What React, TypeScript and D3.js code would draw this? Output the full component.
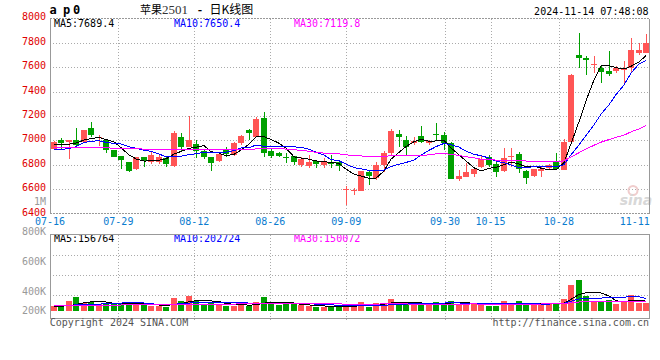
import React from "react";
import * as d3 from "d3";

// ---------- data ----------
const dates = [
  "07-16","07-17","07-18","07-19","07-22","07-23","07-24","07-25","07-26","07-29","07-30","07-31",
  "08-01","08-02","08-05","08-06","08-07","08-08","08-09","08-12","08-13","08-14","08-15","08-16",
  "08-19","08-20","08-21","08-22","08-23","08-26","08-27","08-28","08-29","08-30",
  "09-02","09-03","09-04","09-05","09-06","09-09","09-10","09-11","09-12","09-13","09-18","09-19","09-20",
  "09-23","09-24","09-25","09-26","09-27","09-30",
  "10-08","10-09","10-10","10-11","10-14","10-15","10-16","10-17","10-18","10-21","10-22","10-23","10-24","10-25",
  "10-28","10-29","10-30","10-31",
  "11-01","11-04","11-05","11-06","11-07","11-08","11-11","11-12","11-13",
];

const openP = [
  6927,7003,6990,7003,6990,7102,7017,7003,6922,6872,
  6823,6760,6862,6826,6823,6853,6785,7025,6949,6971,
  6916,6862,6826,6919,6886,6976,7085,7031,7181,6913,
  6900,6862,6872,6799,6796,6832,6793,6813,6821,6596,
  6592,6589,6744,6695,6796,6900,7053,7003,6976,7039,
  6982,7050,7044,6976,6684,6703,6725,6777,6861,6807,
  6744,6861,6886,6752,6709,6752,6777,6826,6758,6990,
  7699,7672,7622,7593,7568,7565,7582,7590,7718,7718,
];
const highP = [
  6995,7022,7005,7102,7088,7151,7044,7009,6925,6875,
  6826,6867,6867,6908,6881,6867,7080,7061,7200,7003,
  6933,6865,6890,6949,6990,7044,7090,7194,7235,6935,
  6905,6894,6875,6867,6881,6835,6853,6881,6824,6627,
  6608,6752,6750,6826,6916,7093,7085,7036,7031,7118,
  7003,7145,7072,6990,6758,6818,6785,6880,6880,6826,
  6935,6935,6908,6755,6770,6785,6807,6900,7009,7540,
  7877,7691,7691,7609,7732,7610,7650,7840,7795,7871,
];
const lowP = [
  6920,6922,6851,6955,6985,7025,6957,6900,6865,6769,
  6744,6758,6785,6807,6807,6785,6785,6916,6945,6853,
  6845,6752,6820,6867,6872,6963,7003,7030,6867,6853,
  6862,6818,6799,6780,6771,6771,6777,6771,6752,6471,
  6553,6585,6635,6676,6744,6881,6949,6872,6963,6976,
  6963,7003,6922,6684,6668,6700,6703,6771,6785,6703,
  6740,6785,6736,6643,6703,6703,6758,6768,6755,6985,
  7595,7535,7549,7473,7527,7550,7459,7550,7700,7715,
];
const closeP = [
  6987,6982,7003,6960,7085,7047,7025,6922,6867,6840,
  6752,6862,6832,6881,6862,6807,7058,6941,7003,6916,
  6867,6812,6886,6886,6982,7036,7063,7175,6894,6875,
  6878,6859,6823,6848,6826,6804,6821,6810,6790,6600,
  6597,6750,6709,6799,6894,7077,7031,6949,6995,6993,
  6995,7047,6976,6684,6709,6744,6766,6845,6799,6744,
  6853,6872,6763,6695,6766,6768,6799,6771,6990,7535,
  7672,7653,7626,7563,7546,7592,7595,7740,7740,7800,
];
const volume = [
  80000,75000,160000,224000,123000,144000,117000,107000,107000,128000,
  107000,107000,107000,75000,75000,59000,208000,160000,240000,155000,
  112000,139000,107000,85000,75000,107000,80000,144000,224000,107000,
  96000,107000,107000,91000,75000,59000,59000,75000,64000,75000,
  75000,144000,64000,123000,123000,187000,139000,107000,107000,107000,
  107000,139000,128000,155000,107000,123000,107000,107000,75000,75000,
  155000,107000,155000,107000,107000,107000,107000,123000,187000,416000,
  507000,240000,155000,139000,176000,112000,165000,251000,133000,133000,
];

// moving-average values before enough visible history exists
const ma5Head = [6968, 6968, 6970, 6978];
const ma10Head = [6922, 6927, 6933, 6949, 6982, 6993, 6998, 6984, 6976];
const ma30Head = [
  6941, 6941, 6941, 6941, 6941, 6941, 6941, 6941, 6935, 6935, 6935, 6935,
  6928, 6928, 6928, 6928, 6928, 6924, 6924, 6924, 6924, 6924, 6924, 6924,
  6926, 6926, 6928, 6930, 6932,
];
const volMa5Head = [70000, 72000, 85000, 100000];
const volMa10Head = [85000, 85000, 90000, 96000, 101000, 107000, 110000, 112000, 115000];
const volMa30Head = [
  92000, 92000, 92000, 92000, 92000, 92000, 94000, 94000, 94000, 94000,
  96000, 96000, 96000, 96000, 96000, 98000, 98000, 98000, 100000, 100000,
  102000, 104000, 106000, 108000, 110000, 112000, 114000, 116000, 118000,
];

const priceTicks = [6400, 6600, 6800, 7000, 7200, 7400, 7600, 7800, 8000];
const volTickLabels = ["1M", "800K", "600K", "400K", "200K"];
const xTickLabels = ["07-16", "07-29", "08-12", "08-26", "09-09", "09-30", "10-15", "10-28", "11-11"];

const priceLegend = ["MA5:7689.4", "MA10:7650.4", "MA30:7119.8"];
const volLegend = ["MA5:156764", "MA10:202724", "MA30:150072"];

// ---------- layout ----------
const W = 660, H = 360;
const L = 50, R = 650;
const PTOP = 18.5, PBOT = 213.5;
const VTOP = 234.5, VBOT = 318.5, VBASE = 310.7;
const MONO = "'DejaVu Sans Mono', monospace";
const RED = "#ff5555", GREEN = "#00a000";
const GRID = "#aaaaaa", BORDER = "#999999";
const maColors = ["#000000", "#0000ff", "#ff00ff"];

function movingAvg(vals: number[], p: number, head: number[]) {
  return vals.map((_, i) => (i < p - 1 ? head[i] : (d3.mean(vals.slice(i - p + 1, i + 1)) as number)));
}

export default function App() {
  const n = dates.length;
  const idx = d3.range(n);
  const xb = d3.scaleBand<number>().domain(idx).range([L, R]).paddingInner(0.2).paddingOuter(0.1);
  const bw = Math.round(xb.bandwidth());
  const bx = (i: number) => Math.round(xb(i) as number);
  const cx = (i: number) => bx(i) + bw / 2;
  const xg = d3.scaleLinear().domain([0, n - 1]).range([L, R]);
  const y = d3.scaleLinear().domain([6400, 8000]).range([213.7, 18.3]);
  const yv = d3.scaleLinear().domain([0, 1000000]).range([VBASE, VBASE - 1000000 / 16500]);

  const pMA = [movingAvg(closeP, 5, ma5Head), movingAvg(closeP, 10, ma10Head), movingAvg(closeP, 30, ma30Head)];
  const vMA = [movingAvg(volume, 5, volMa5Head), movingAvg(volume, 10, volMa10Head), movingAvg(volume, 30, volMa30Head)];
  const pLine = d3.line<number>().x((_, i) => cx(i)).y((d) => y(d));
  const vLine = d3.line<number>().x((_, i) => cx(i)).y((d) => yv(d));

  const tickIdx = xTickLabels.map((t) => dates.indexOf(t));
  const vGrid = tickIdx.slice(1, -1);
  const up = (i: number) => closeP[i] >= openP[i];

  return (
    <svg width={W} height={H} viewBox={`0 0 ${W} ${H}`}
      style={{ position: "absolute", left: 0, top: 0, background: "#fff" }}>
      <rect x={0} y={0} width={W} height={H} fill="#fff" />

      {/* header */}
      <text x="49.5 63 73" y={14} fontFamily={MONO} fontWeight="bold" fontSize={12} fill="#000">ap0</text>
      <text x={140} y={13.5} fontFamily="'Noto Sans CJK SC'" fontSize={11} fill="#000">苹果</text>
      <text x={162} y={13.5} fontFamily="'Liberation Serif', serif" fontSize={13} fill="#333">2501</text>
      <text x={200} y={13.5} textAnchor="middle" fontFamily="'Noto Sans CJK SC'" fontSize={12} fontWeight="bold" fill="#000">-</text>
      <text x={209.5} y={13.5} fontFamily="'Noto Sans CJK SC'" fontSize={12} fill="#000">日K线图</text>
      <text x={648.5} y={15} textAnchor="end" fontFamily={MONO} fontSize={10} fill="#000">2024-11-14 07:48:08</text>

      {/* grid */}
      <g shapeRendering="crispEdges" stroke={GRID} strokeDasharray="1,2">
        {priceTicks.filter((v) => v > 6400 && v < 8000).map((v) => (
          <line key={v} x1={L} x2={R} y1={Math.round(y(v)) + 0.5} y2={Math.round(y(v)) + 0.5} />
        ))}
        {vGrid.map((i) => (
          <line key={i} x1={Math.round(xg(i)) + 0.5} x2={Math.round(xg(i)) + 0.5} y1={PTOP} y2={PBOT} />
        ))}
        {vGrid.map((i) => (
          <line key={"v" + i} x1={Math.round(xg(i)) + 0.5} x2={Math.round(xg(i)) + 0.5} y1={VTOP} y2={VBOT + 3} />
        ))}
        {[21, 41, 61].map((d) => (
          <line key={d} x1={L} x2={R} y1={VTOP + d} y2={VTOP + d} />
        ))}
      </g>

      {/* sina watermark */}
      <g opacity={0.9}>
        <circle cx={633} cy={190.5} r={4.5} fill="none" stroke="#efc8c8" strokeWidth={2} />
        <text x={636} y={205} textAnchor="middle" fontFamily="'DejaVu Sans', sans-serif" fontStyle="italic" fontWeight="bold" fontSize={14} fill="#d4d4d4">sina</text>
      </g>

      {/* candles */}
      <g shapeRendering="crispEdges">
        {idx.map((i) => {
          const c = up(i) ? RED : GREEN;
          const yt = y(Math.max(openP[i], closeP[i]));
          const yb = y(Math.min(openP[i], closeP[i]));
          const wx = bx(i) + Math.floor(bw / 2) + 0.5;
          return (
            <g key={i}>
              <line x1={wx} x2={wx} y1={y(highP[i])} y2={y(lowP[i])} stroke={c} />
              <rect x={bx(i)} y={Math.round(yt)} width={bw} height={Math.max(1, Math.round(yb - yt))} fill={c} />
            </g>
          );
        })}
      </g>

      {/* price MAs */}
      <g fill="none" strokeWidth={1} shapeRendering="crispEdges">
        {pMA.map((m, k) => (
          <path key={k} d={pLine(m) as string} stroke={maColors[k]} />
        ))}
      </g>

      {/* price legend */}
      {priceLegend.map((t, k) => (
        <text key={t} x={54 + k * 120} y={27.3} fontFamily={MONO} fontSize={10} fill={maColors[k]}>{t}</text>
      ))}

      {/* price box */}
      <g shapeRendering="crispEdges" fill="none" stroke={BORDER}>
        <line x1={L + 0.5} x2={L + 0.5} y1={PTOP} y2={PBOT + 0.5} />
        <line x1={R - 0.5} x2={R - 0.5} y1={PTOP} y2={PBOT + 0.5} />
        <line x1={L} x2={R} y1={PTOP} y2={PTOP} strokeDasharray="2,1" />
        <line x1={L} x2={R} y1={PBOT} y2={PBOT} strokeDasharray="2,1" />
      </g>

      {/* price axis labels */}
      {priceTicks.map((v) => (
        <text key={v} x={46} y={y(v) + 2} textAnchor="end" fontFamily={MONO} fontSize={10} fill="#e00000">{v}</text>
      ))}
      {xTickLabels.map((t, k) => (
        <text key={t} x={xg(tickIdx[k])} y={225} textAnchor="middle" fontFamily={MONO} fontSize={10} fill="#0a7ccf">{t}</text>
      ))}

      {/* volume bars */}
      <g shapeRendering="crispEdges">
        {idx.map((i) => (
          <rect key={i} x={bx(i)} y={yv(volume[i])} width={bw} height={VBASE - yv(volume[i])} fill={up(i) ? RED : GREEN} />
        ))}
      </g>
      <g fill="none" strokeWidth={1} shapeRendering="crispEdges">
        {vMA.map((m, k) => (
          <path key={k} d={vLine(m) as string} stroke={maColors[k]} />
        ))}
      </g>
      {volLegend.map((t, k) => (
        <text key={t} x={54 + k * 120} y={241.8} fontFamily={MONO} fontSize={10} fill={maColors[k]}>{t}</text>
      ))}
      <rect x={L + 0.5} y={VTOP} width={R - L - 1} height={VBOT - VTOP} fill="none" stroke={BORDER} shapeRendering="crispEdges" />
      {volTickLabels.map((t, k) => (
        <text key={t} x={46} y={k < 4 ? VTOP + (k - 1) * 30 : VBOT - 4.7} textAnchor="end" fontFamily={MONO} fontSize={10} fill="#999">{t}</text>
      ))}

      {/* footer */}
      <text x={49.7} y={326} fontFamily={MONO} fontSize={10} fill="#555">Copyright 2024 SINA.COM</text>
      <text x={649} y={326} textAnchor="end" fontFamily={MONO} fontSize={10} fill="#555">http://finance.sina.com.cn</text>
    </svg>
  );
}
